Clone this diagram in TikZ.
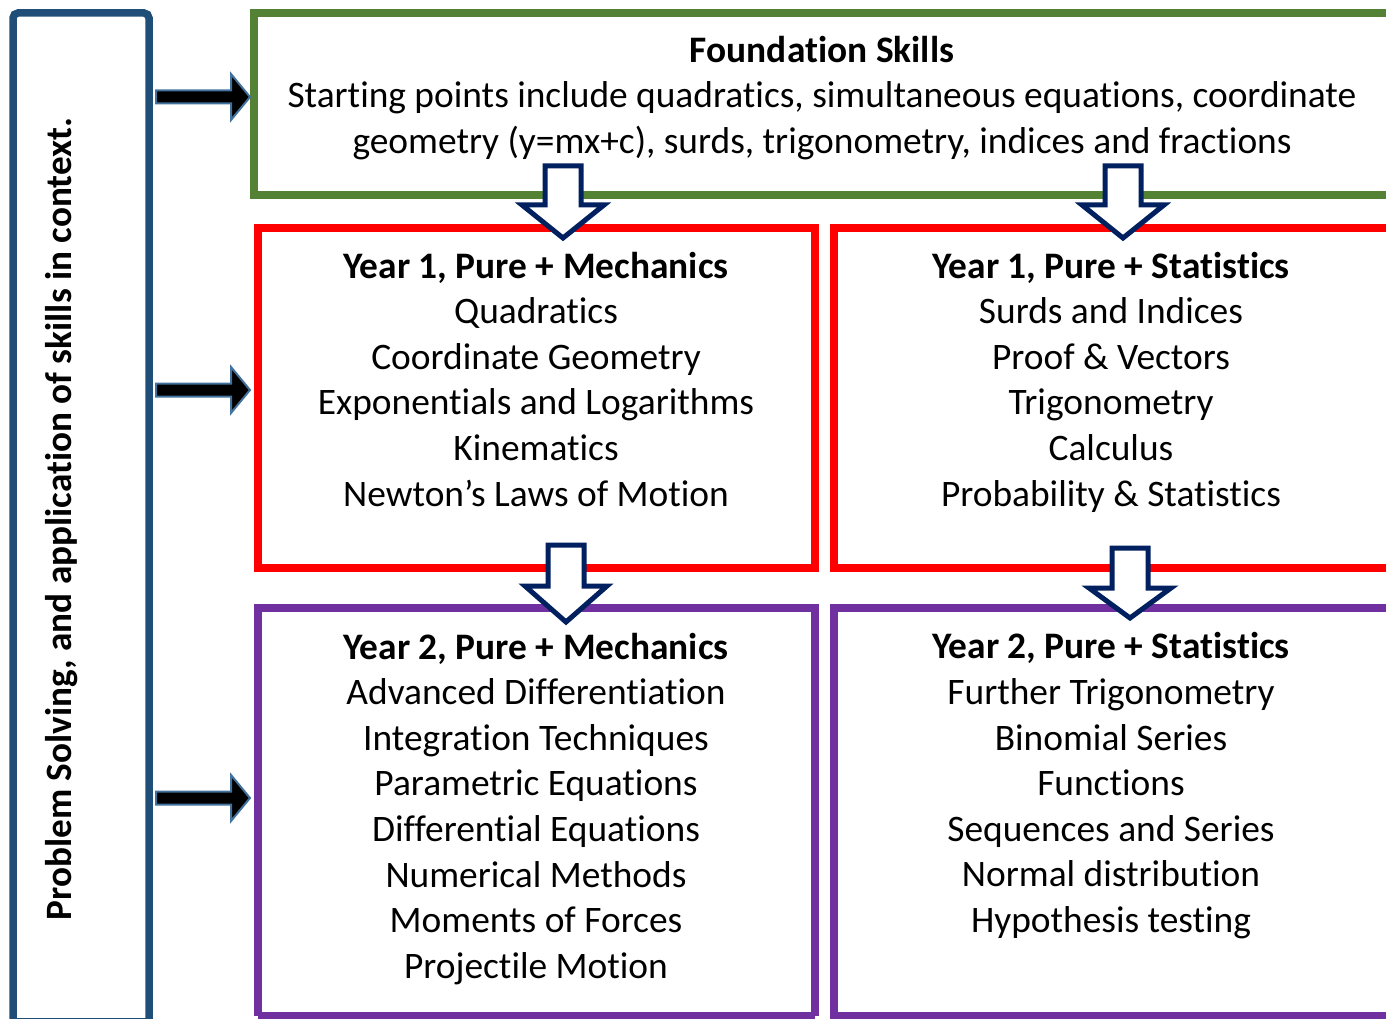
\documentclass[tikz,border=0pt]{standalone}
\usepackage{fontspec}
\setmainfont{Carlito}[Ligatures=CommonOff]
\definecolor{bluebox}{HTML}{1F4E79}
\definecolor{greenbox}{HTML}{548235}
\definecolor{redbox}{HTML}{FF0000}
\definecolor{purplebox}{HTML}{7030A0}
\definecolor{navy}{HTML}{002060}
\definecolor{steel}{HTML}{41719C}
\begin{document}
\begin{tikzpicture}[x=1pt,y=-1pt,
  boxline/.style={line width=7.5pt},
  txt/.style={align=center,inner sep=0pt,font=\fontsize{37.4}{45.6}\selectfont},
  downarrow/.style={draw=navy,fill=white,line width=5pt,line join=miter},
  rightarrow/.style={draw=steel,fill=black,line width=2pt,line join=miter}]
\useasboundingbox (0,0) rectangle (1386,1019);
\clip (0,0) rectangle (1386,1019);
% boxes
\draw[boxline,draw=bluebox,rounded corners=5pt] (13,1040) -- (13,13) -- (149,13) -- (149,1040);
\draw[boxline,draw=bluebox,line width=1pt] (13,1018.5) -- (149,1018.5);
\draw[boxline,draw=greenbox] (1400,13) -- (254,13) -- (254,195) -- (1400,195);
\draw[boxline,draw=redbox] (258,228) rectangle (815,568);
\draw[boxline,draw=redbox] (1400,228) -- (834,228) -- (834,568) -- (1400,568);
\draw[boxline,draw=purplebox] (258,1016) -- (258,608) -- (815,608) -- (815,1016);
\draw[boxline,draw=purplebox] (258,1016) -- (815,1016);
\draw[boxline,draw=purplebox] (1400,608) -- (834,608) -- (834,1016) -- (1400,1016);
% side text
\node[rotate=90,inner sep=0pt,font=\fontsize{37.2}{40}\selectfont\bfseries] (side) at (62,519) {Problem Solving, and application of skills in context.};
% texts
\node[txt] (found) at (822,98.5) {\strut\textbf{Foundation Skills}\\Starting points include quadratics, simultaneous equations, coordinate\\geometry (y=mx+c), surds, trigonometry, indices and fractions\strut};
\node[txt] (y1m) at (536,383) {\strut\textbf{Year 1, Pure + Mechanics}\\Quadratics\\Coordinate Geometry\\Exponentials and Logarithms\\Kinematics\\Newton’s Laws of Motion\strut};
\node[txt] (y1s) at (1111,383) {\strut\textbf{Year 1, Pure + Statistics}\\Surds and Indices\\Proof \& Vectors\\Trigonometry\\Calculus\\Probability \& Statistics\strut};
\node[txt] (y2m) at (536,809.5) {\strut\textbf{Year 2, Pure + Mechanics}\\Advanced Differentiation\\Integration Techniques\\Parametric Equations\\Differential Equations\\Numerical Methods\\Moments of Forces\\Projectile Motion\strut};
\node[txt] (y2s) at (1111,786.5) {\strut\textbf{Year 2, Pure + Statistics}\\Further Trigonometry\\Binomial Series\\Functions\\Sequences and Series\\Normal distribution\\Hypothesis testing\strut};
% right block arrows
\foreach \yy in {97,390,798}{
  \draw[rightarrow] (156,\yy-6.5) -- (231,\yy-6.5) -- (231,\yy-23) -- (250,\yy) -- (231,\yy+23) -- (231,\yy+6.5) -- (156,\yy+6.5) -- cycle;
}
% down block arrows
\foreach \xx/\yt/\yh/\yb in {563/166/205/238, 1123/166/205/238, 566/545/586/622, 1130/548/588/618}{
  \draw[downarrow] (\xx-18,\yt) -- (\xx+18,\yt) -- (\xx+18,\yh) -- (\xx+41,\yh) -- (\xx,\yb) -- (\xx-41,\yh) -- (\xx-18,\yh) -- cycle;
}
\end{tikzpicture}
\end{document}
